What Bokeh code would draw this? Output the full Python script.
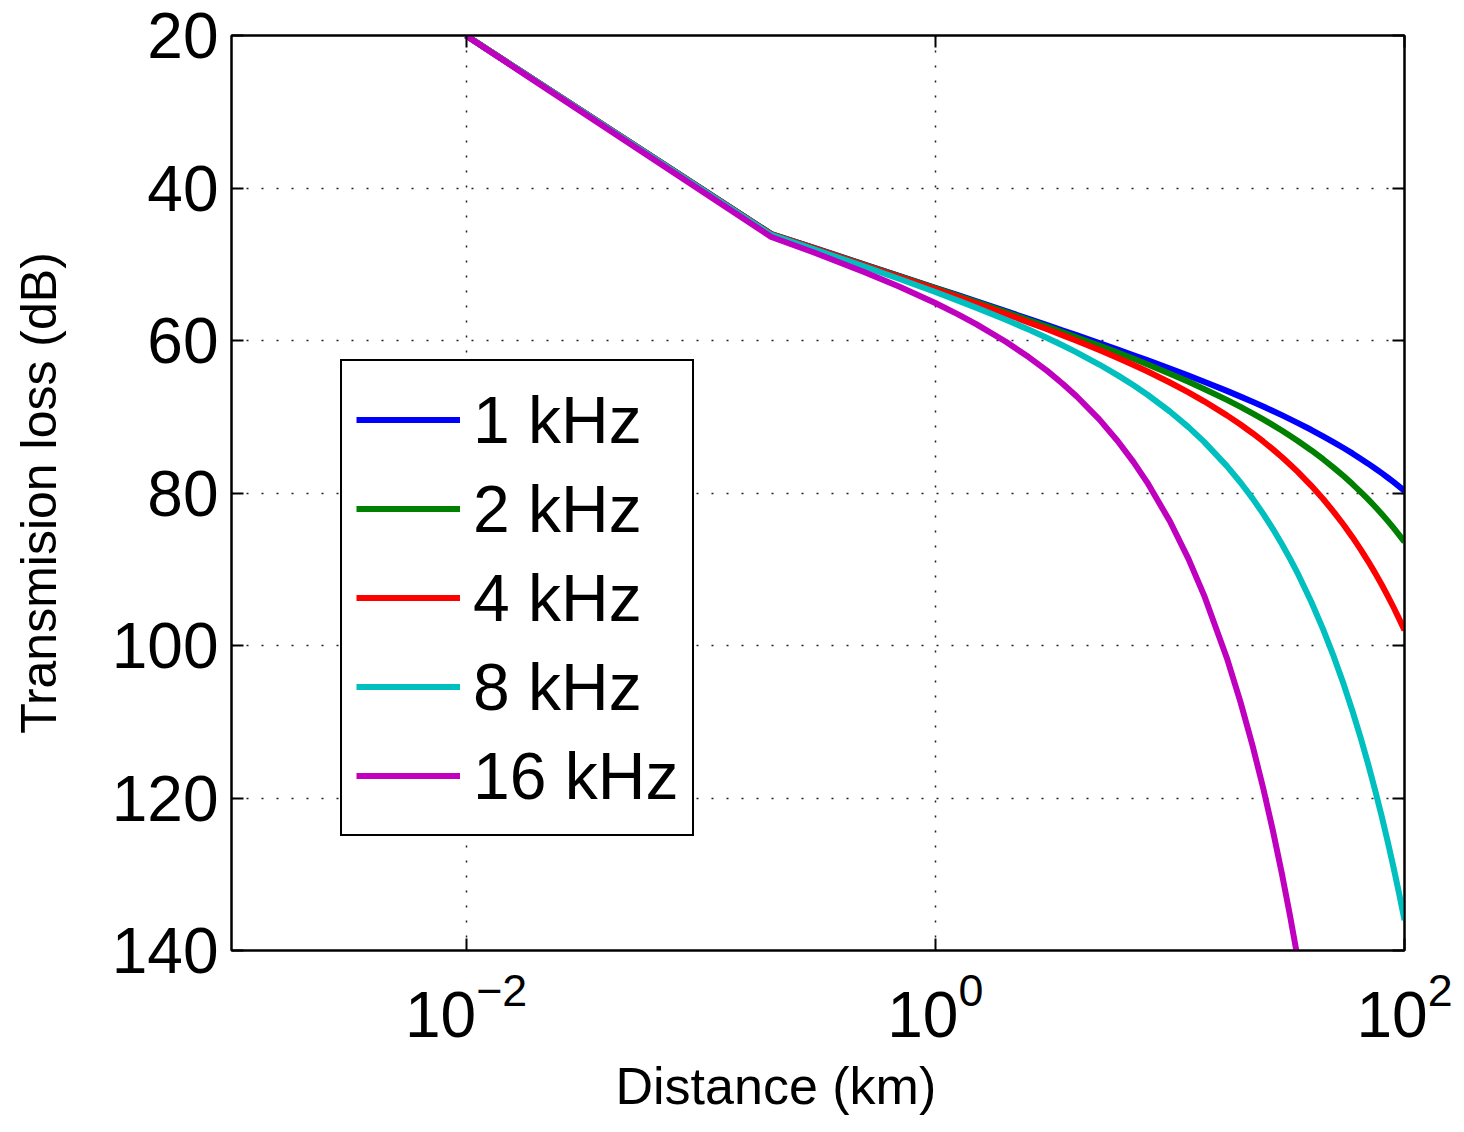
from bokeh.plotting import figure
from bokeh.models import (Range1d, FixedTicker, LogAxis, LinearAxis, Legend,
                          LegendItem, Title, LogTickFormatter)
from bokeh.embed import file_html
from bokeh.resources import INLINE

# ---------------- data ----------------
distance_km = [0.01, 0.2, 0.3, 0.5, 0.7, 1, 1.25, 1.5, 2, 2.5, 3, 3.5, 4, 5,
               6, 7, 8, 10, 12, 14, 17.5, 20, 22.5, 25, 27.5, 30, 32.5, 35,
               40, 45, 50, 55, 60, 65, 70, 75, 80, 85, 90, 95, 100]
tl_1khz = [20.00, 46.03, 47.80, 50.03, 51.51, 53.08, 54.06, 54.87, 56.15,
           57.16, 57.98, 58.69, 59.30, 60.34, 61.19, 61.93, 62.58, 63.68,
           64.60, 65.41, 66.61, 67.36, 68.04, 68.67, 69.24, 69.79, 70.31,
           70.80, 71.71, 72.56, 73.35, 74.10, 74.81, 75.50, 76.15, 76.79,
           77.40, 78.00, 78.58, 79.16, 79.71]
tl_2khz = [20.00, 46.05, 47.82, 50.07, 51.55, 53.14, 54.15, 54.97, 56.29,
           57.33, 58.18, 58.92, 59.57, 60.67, 61.59, 62.40, 63.11, 64.35,
           65.41, 66.35, 67.79, 68.70, 69.55, 70.34, 71.09, 71.80, 72.49,
           73.14, 74.39, 75.57, 76.70, 77.78, 78.83, 79.85, 80.84, 81.81,
           82.76, 83.69, 84.61, 85.52, 86.41]
tl_4khz = [20.00, 46.07, 47.86, 50.13, 51.64, 53.26, 54.29, 55.15, 56.52,
           57.62, 58.53, 59.33, 60.03, 61.25, 62.29, 63.21, 64.04, 65.51,
           66.80, 67.97, 69.82, 71.02, 72.16, 73.24, 74.28, 75.28, 76.26,
           77.20, 79.03, 80.79, 82.50, 84.16, 85.79, 87.39, 88.96, 90.51,
           92.04, 93.55, 95.05, 96.54, 98.01]
tl_8khz = [20.01, 46.15, 47.97, 50.32, 51.90, 53.64, 54.77, 55.72, 57.28,
           58.57, 59.67, 60.66, 61.55, 63.15, 64.57, 65.87, 67.08, 69.31,
           71.36, 73.29, 76.47, 78.62, 80.71, 82.74, 84.73, 86.68, 88.61,
           90.50, 94.23, 97.89, 101.50, 105.06, 108.59, 112.09, 115.56,
           119.01, 122.44, 125.85, 129.25, 132.64, 136.01]
distance_16khz_km = [0.01, 0.2, 0.3, 0.5, 0.7, 1, 1.25, 1.5, 2, 2.5, 3, 3.5,
                     4, 5, 6, 7, 8, 10, 12, 14, 17.5, 20, 22.5, 25, 27.5, 30,
                     32.5, 35, 40]
tl_16khz = [20.02, 46.43, 48.40, 51.04, 52.91, 55.08, 56.57, 57.88, 60.16,
            62.17, 63.99, 65.70, 67.31, 70.35, 73.21, 75.95, 78.60, 83.71,
            88.64, 93.45, 101.67, 107.42, 113.11, 118.74, 124.33, 129.88,
            135.41, 140.90, 151.83]

series_labels = ["1 kHz", "2 kHz", "4 kHz", "8 kHz", "16 kHz"]
series_colors = ["#0000FF", "#008000", "#FF0000", "#00BFBF", "#BF00BF"]
y_ticks = [20, 40, 60, 80, 100, 120, 140]
x_ticks = [1e-2, 1e0, 1e2]

FONT = "Liberation Sans"

p = figure(width=1456, height=1130, x_axis_type="log",
           x_range=Range1d(1e-3, 1e2), y_range=Range1d(140, 20),
           output_backend="svg", toolbar_location=None,
           min_border_left=231, min_border_right=52, min_border_top=35,
           min_border_bottom=180)
p.background_fill_color = "white"
p.border_fill_color = "white"
p.outline_line_color = "black"
p.outline_line_width = 2
p.outline_line_alpha = 1.0

xs = [distance_km, distance_km, distance_km, distance_km, distance_16khz_km]
ys = [tl_1khz, tl_2khz, tl_4khz, tl_8khz, tl_16khz]
items = []
for x, y, lab, col in zip(xs, ys, series_labels, series_colors):
    r = p.line(x, y, line_color=col, line_width=6, line_join="round")
    items.append(LegendItem(label=lab, renderers=[r]))

# axes
xa = p.xaxis[0]
xa.ticker = FixedTicker(ticks=x_ticks)
xa.formatter = LogTickFormatter()
ya = p.yaxis[0]
ya.ticker = FixedTicker(ticks=y_ticks)
for ax in (xa, ya):
    ax.axis_line_color = "black"
    ax.axis_line_width = 2
    ax.major_tick_in = 12
    ax.major_tick_out = 0
    ax.major_tick_line_width = 2
    ax.major_tick_line_color = "black"
    ax.minor_tick_line_color = None
    ax.major_label_text_font = FONT
    ax.major_label_text_font_size = "64px"
    ax.major_label_text_color = "black"
ya.major_label_standoff = 13
xa.major_label_standoff = 21

ya.axis_label = "Transmision loss (dB)"
ya.axis_label_text_font = FONT
ya.axis_label_text_font_size = "50px"
ya.axis_label_text_font_style = "normal"
ya.axis_label_text_color = "black"
ya.axis_label_standoff = 42

# mirrored axes (ticks only) on top and right
top = LogAxis(ticker=FixedTicker(ticks=x_ticks), major_label_text_font_size="2px",
              major_label_text_alpha=0, major_label_standoff=0,
              major_tick_in=12, major_tick_out=0, major_tick_line_color="black",
              major_tick_line_width=2, minor_tick_line_color=None,
              axis_line_color="black", axis_line_width=2)
right = LinearAxis(ticker=FixedTicker(ticks=y_ticks), major_label_text_font_size="2px",
                   major_label_text_alpha=0, major_label_standoff=0,
                   major_tick_in=12, major_tick_out=0, major_tick_line_color="black",
                   major_tick_line_width=2, minor_tick_line_color=None,
                   axis_line_color="black", axis_line_width=2)
p.add_layout(top, "above")
p.add_layout(right, "right")

# x label placed like the reference
xlab = Title(text="Distance (km)", align="left", offset=384,
             text_font=FONT, text_font_size="52px", text_font_style="normal",
             text_color="black", standoff=30)
p.add_layout(xlab, "below")

# grid
for g in (p.xgrid[0], p.ygrid[0]):
    g.grid_line_color = "#222222"
    g.grid_line_width = 1.5
    g.grid_line_dash = "2 13"
p.xgrid[0].ticker = FixedTicker(ticks=x_ticks)
p.ygrid[0].ticker = FixedTicker(ticks=y_ticks)

legend = Legend(items=items, location=(109, 114),
                label_text_font=FONT, label_text_font_size="66px",
                label_text_color="black",
                glyph_width=104, glyph_height=89, label_height=89,
                spacing=0, padding=14, margin=0, label_standoff=13,
                border_line_color="black", border_line_width=2,
                border_line_alpha=1.0,
                background_fill_color="white", background_fill_alpha=1.0)
p.add_layout(legend)

open("out.html", "w").write(file_html(p, INLINE))
